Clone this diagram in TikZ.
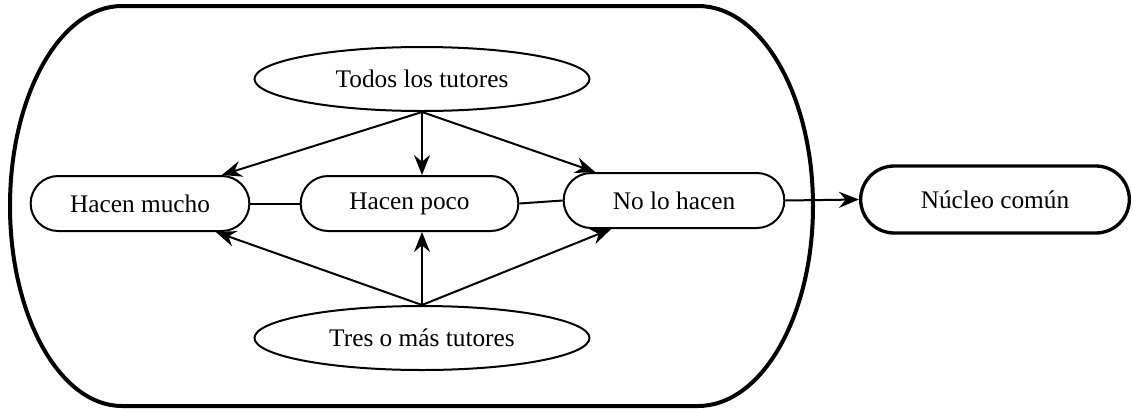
\documentclass[tikz,border=0pt]{standalone}
\usepackage{fontspec}
\setmainfont{Liberation Serif}
\usepackage{tikz}
\usetikzlibrary{shapes.geometric}
\usepgflibrary{shapes.misc}
\usetikzlibrary{calc}
\usetikzlibrary{arrows.meta}
\newcommand{\pxunit}{0.75pt}
\tikzset{pill/.style={rounded rectangle,draw,line width=#1,minimum height=55*\pxunit,inner sep=2pt},pill/.default=1.5pt}
\tikzset{oval/.style={ellipse,draw,line width=1.5pt,minimum width=335*\pxunit,minimum height=64*\pxunit}}
\tikzset{link/.style={line width=1.5pt,-{Stealth[length=15pt,width=12pt,inset=5pt]}}}

\begin{document}
\begin{tikzpicture}[x=\pxunit,y=-\pxunit,font=\fontsize{19}{23}\selectfont]

		\useasboundingbox (0,0) rectangle (1133,408);

		\coordinate (T) at (422,79);
		\coordinate (M) at (140,203.5);
		\coordinate (P) at (409.5,203.5);
		\coordinate (N) at (674,200.5);
		\coordinate (C) at (995,199.5);
		\coordinate (R) at (422,338);

		\draw [line width=3pt] (122,6) -- (698,6)
			arc [start angle=-90,end angle=90,x radius=115,y radius=200]
			-- (122,406)
			arc [start angle=90,end angle=270,x radius=112,y radius=200] -- cycle;

		\node [oval] (nodeT) at (T) {Todos los tutores};
		\node [oval] (nodeR) at (R) {Tres o más tutores};

		\node [pill,minimum width=224*\pxunit] (nodeM) at (M) {Hacen mucho};
		\node [pill,minimum width=223*\pxunit] (nodeP) at (P) {Hacen poco};
		\node [pill,minimum width=226*\pxunit] (nodeN) at (N) {No lo hacen};
		\node [pill=2.5pt,minimum width=274*\pxunit,minimum height=67*\pxunit] (nodeC) at (C) {Núcleo común};

		\draw [link] (nodeT.south) -- (nodeM.north east);
		\draw [link] (nodeT.south) -- (nodeT.south |- nodeP.north);
		\draw [link] (nodeT.south) -- ($(nodeN.north west) + (4,0)$);

		\draw [link] (nodeR.north) -- ($(nodeM.south east) - (6,0)$);
		\draw [link] (nodeR.north) -- (nodeR.north |- nodeP.south);
		\draw [link] (nodeR.north) -- ($(nodeN.south west) + (20,0)$);

		\draw [line width=1.5pt] (nodeM.east) -- (nodeP.west);
		\draw [line width=1.5pt] (nodeP.east) -- (nodeN.west);

		\draw [link] (nodeN.east) -- (nodeC.west);

	\end{tikzpicture}
\end{document}
